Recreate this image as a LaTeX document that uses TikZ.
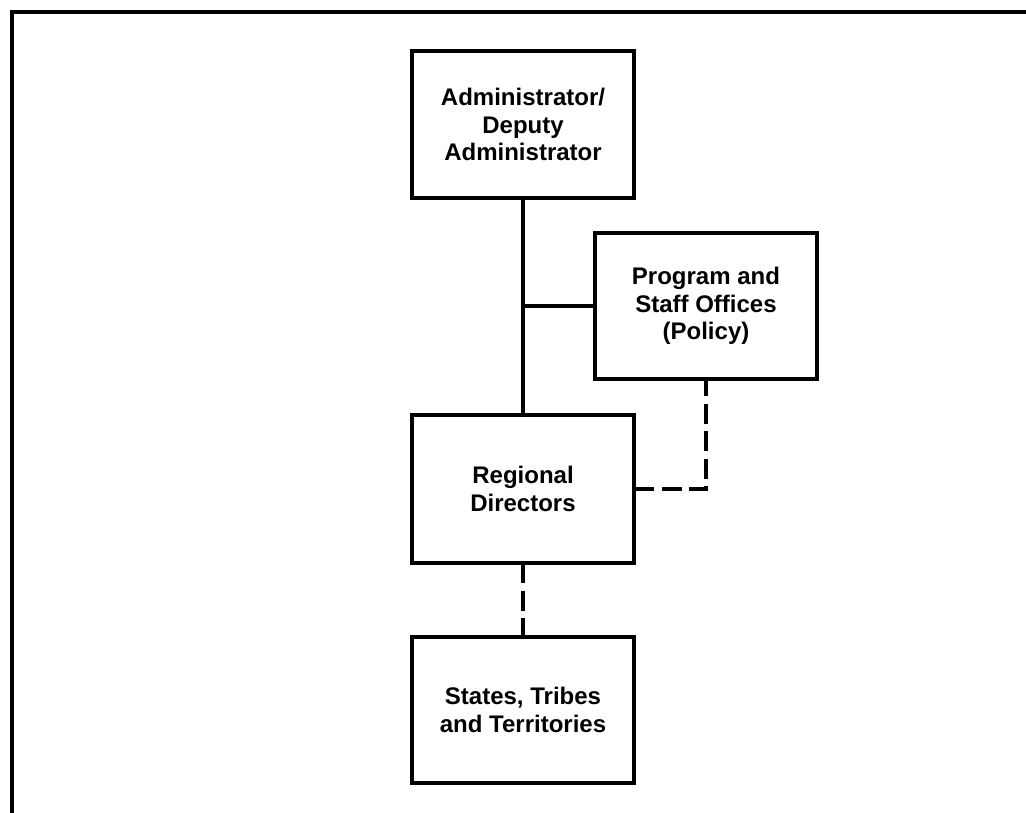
\documentclass[tikz,border=0pt]{standalone}
\usepackage{fontspec}
\setmainfont{Liberation Sans}
\begin{document}
\begin{tikzpicture}[x=1pt,y=-1pt,
  orgbox/.style={draw, line width=3.5pt, rectangle, inner sep=0pt, outer sep=0pt,
    align=center, font=\fontsize{24}{27.5}\selectfont\bfseries},
  link/.style={line width=3.5pt},
  dashlink/.style={line width=3.5pt, dash pattern=on 20pt off 7.5pt}]
\useasboundingbox (0,0) rectangle (1026,813);
% frame along the top and left edges
\draw[line width=4pt] (11.5,813) -- (11.5,12) -- (1026,12);
% boxes
\node[orgbox, minimum width=222pt, minimum height=147pt] (admin) at (523,124.5)
  {Administrator/\\Deputy\\Administrator};
\node[orgbox, minimum width=222pt, minimum height=146pt] (prog) at (706,306)
  {Program and\\Staff Offices\\(Policy)};
\node[orgbox, minimum width=222pt, minimum height=148pt] (reg) at (523,489)
  {Regional\\Directors};
\node[orgbox, minimum width=222pt, minimum height=146pt] (states) at (523,710)
  {States, Tribes\\and Territories};
% connectors
\draw[link] (admin.south) -- (reg.north);
\draw[link] (prog.west) -- (prog.west -| admin.south);
\draw[dashlink] (reg.east) -| (prog.south);
\draw[dashlink] (reg.south) -- (states.north);
\end{tikzpicture}
\end{document}
